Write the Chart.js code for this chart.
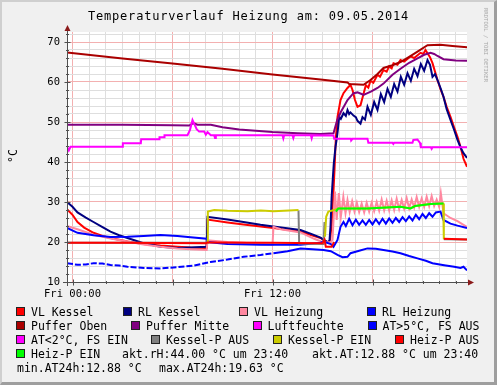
<!DOCTYPE html>
<html>
<head>
<meta charset="utf-8">
<script src="https://cdn.jsdelivr.net/npm/chart.js@4.4.1/dist/chart.umd.min.js"></script>
<style>
  html, body { margin: 0; padding: 0; background: #f0f0f0; }
  #wrap { position: relative; width: 497px; height: 385px; overflow: hidden; font-family: 'DejaVu Sans Mono', monospace; color: #000; }
  #chart { position: absolute; left: 0; top: 0; }
  #frame { position: absolute; left: 0; top: 0; width: 497px; height: 385px; box-sizing: border-box;
           border-style: solid; border-width: 2px 3px 3px 2px; border-color: #cfcfcf #9e9e9e #9e9e9e #cfcfcf; pointer-events: none; }
  .title { position: absolute; left: 0; top: 8px; width: 497px; text-align: center; font-size: 12px; letter-spacing: 0.8px; line-height: 16px; }
  .ylab { position: absolute; left: 13px; top: 156px; font-size: 11.5px; transform: translate(-50%, -50%) rotate(-90deg); white-space: nowrap; }
  .wm { position: absolute; left: 486px; top: 45px; font-size: 5.6px; color: #aaaaaa; white-space: nowrap; transform: translate(-50%, -50%) rotate(90deg); }
  .lg { position: absolute; font-size: 11.5px; line-height: 14px; white-space: pre; }
  .box { position: absolute; width: 9px; height: 9px; box-sizing: border-box; border: 1px solid #222; }
</style>
</head>
<body>
<div id="wrap">
  <canvas id="chart" width="497" height="385"></canvas>
  <div class="title">Temperaturverlauf Heizung am: 09.05.2014</div>
  <div class="ylab">°C</div>
  <div class="wm">RRDTOOL / TOBI OETIKER</div>
  <div id="legend"></div>
  <div id="frame"></div>
</div>
<script>
// time in hours (Fri 00:00 = 0), graph spans 23:40 Thu .. 23:40 Fri
const vlKessel = [[-0.33,28.2],[0,26.8],[0.3,25.0],[0.7,23.6],[1.26,22.3],[1.8,21.5],[2.28,21.0],[3.3,20.1],[4.26,19.5],[5.28,19.1],[6.3,18.8],[7.08,18.6],[8.05,18.5],[8.1,25.6],[9.3,24.9],[10.26,24.4],[11.28,23.9],[12.06,23.5],[13.68,22.6],[14.4,21.6],[14.88,21.0],[15.06,20.5],[15.3,19.9],[15.45,20.3],[15.55,24.5],[15.65,32],[15.72,38],[15.8,46.0],[15.9,51.3],[16.08,55.5],[16.26,57.2],[16.5,58.5],[16.68,59.3],[16.8,58.0],[16.95,55.5],[17.1,53.8],[17.28,54.2],[17.46,57.0],[17.6,59.2],[17.75,58.6],[17.88,60.3],[18.05,59.8],[18.3,61.8],[18.45,61.3],[18.66,63.0],[18.85,62.6],[19.0,63.9],[19.15,63.4],[19.26,64.7],[19.5,64.3],[19.68,65.5],[19.9,65.1],[20.28,66.4],[20.5,66.0],[20.88,67.3],[21.05,67.0],[21.18,68.0],[21.3,67.2],[21.45,66.2],[21.6,64.7],[21.75,62.6],[21.9,60.5],[22.08,58.2],[22.26,56.3],[22.45,53.8],[22.68,51.3],[22.9,48.6],[23.1,46.3],[23.3,43.5],[23.46,40.8],[23.67,38.8]];
const rlKessel = [[-0.33,30.0],[0,28.8],[0.3,27.4],[0.8,26.1],[1.26,25.0],[1.8,23.7],[2.28,22.6],[2.8,21.7],[3.3,21.0],[4.26,19.7],[5.28,18.8],[6.3,18.5],[7.08,18.6],[8.05,18.8],[8.1,26.3],[9.3,25.6],[10.26,25.0],[11.28,24.3],[12.06,23.9],[13.68,23.0],[14.4,21.9],[14.88,21.1],[15.06,20.6],[15.3,20.0],[15.42,20.3],[15.48,23.8],[15.55,31.3],[15.62,36],[15.68,39.7],[15.78,43.8],[15.86,46],[15.92,48.0],[16.0,51.3],[16.1,50.8],[16.26,52.2],[16.4,51.5],[16.5,53.0],[16.6,52.0],[16.68,52.4],[16.86,51.6],[17.0,51.2],[17.1,50.3],[17.28,49.6],[17.4,51.2],[17.55,50.6],[17.7,53.8],[17.9,51.8],[18.1,55.0],[18.3,53.0],[18.5,57.0],[18.7,55.0],[18.9,58.3],[19.1,56.3],[19.3,59.5],[19.5,57.6],[19.7,61.3],[19.9,59.3],[20.1,62.2],[20.3,60.3],[20.5,63.3],[20.7,61.5],[20.9,64.5],[21.1,62.8],[21.3,65.5],[21.45,64.3],[21.6,61.3],[21.75,62.0],[21.9,60.5],[22.08,58.5],[22.26,56.3],[22.45,53.2],[22.68,50.5],[22.9,48.0],[23.1,45.5],[23.3,43.5],[23.46,42.2],[23.67,41.0]];
const vlHeizung = [[-0.33,24.0],[0.3,23.2],[1.26,21.8],[2.28,20.9],[3.3,20.1],[4.26,19.4],[5.28,18.8],[6.3,18.4],[7.08,18.2],[8.05,18.0],[8.1,20.4],[9.3,20.0],[10.26,19.8],[11.28,19.5],[12.0,19.3],[12.06,23.8],[12.5,23.2],[13.68,22.4],[14.5,20.8],[15.06,19.9],[15.5,20.0],[15.6,20.5],[15.75,32.6],[15.85,25.5],[15.98,32.2],[16.1,26.3],[16.25,31.3],[16.38,27.2],[16.5,30.5],[16.63,27.5],[16.78,30.2],[16.92,27.6],[17.06,29.8],[17.2,27.5],[17.35,29.6],[17.5,27.4],[17.65,29.8],[17.8,27.6],[17.95,29.8],[18.1,27.7],[18.25,30.0],[18.4,27.8],[18.55,30.6],[18.7,27.9],[18.85,30.3],[19.0,27.9],[19.15,30.4],[19.3,28.0],[19.45,30.8],[19.6,28.2],[19.75,30.5],[19.9,28.3],[20.05,31.0],[20.2,28.4],[20.35,30.6],[20.5,28.6],[20.65,31.2],[20.8,28.8],[20.95,30.9],[21.1,28.8],[21.25,31.3],[21.4,29.0],[21.55,31.5],[21.7,29.0],[21.85,30.6],[22.0,28.8],[22.1,32.2],[22.26,27.2],[22.68,26.0],[23.1,25.2],[23.46,24.3],[23.67,23.8]];
const rlHeizung = [[-0.33,23.5],[0.3,22.3],[1.26,21.7],[2.28,21.25],[3.3,21.3],[4.26,21.5],[5.28,21.75],[6.3,21.5],[7.08,21.2],[8.05,20.8],[8.1,20.0],[9.3,19.5],[11.28,19.3],[13.68,19.3],[14.88,19.8],[15.06,20.1],[15.5,19.5],[15.66,18.8],[15.9,20.5],[16.08,23.8],[16.26,25.0],[16.4,24.0],[16.6,25.8],[16.8,24.2],[17.0,25.6],[17.2,24.3],[17.4,25.4],[17.6,24.3],[17.8,25.5],[18.0,24.4],[18.2,25.7],[18.4,24.5],[18.6,25.8],[18.8,24.6],[19.0,25.9],[19.2,24.8],[19.4,26.0],[19.6,25.0],[19.8,26.2],[20.0,25.2],[20.2,26.4],[20.4,25.4],[20.6,26.8],[20.8,25.7],[21.0,27.0],[21.2,26.0],[21.4,27.2],[21.6,26.3],[21.8,27.4],[22.08,27.6],[22.26,25.5],[22.68,24.6],[23.1,24.1],[23.67,23.5]];
const pufferOben = [[-0.33,67.4],[3,65.9],[6,64.6],[9,63.3],[12,61.9],[14.88,60.6],[16.5,59.9],[16.6,59.5],[17.46,59.3],[17.88,60.5],[18.3,62.0],[18.66,63.5],[19.2,64.2],[19.68,65.0],[20.2,66.3],[20.7,67.6],[21.3,69.2],[22.08,69.3],[22.8,69.0],[23.67,68.7]];
const pufferMitte = [[-0.33,49.3],[3,49.3],[6,49.2],[7.0,49.1],[7.25,49.7],[7.5,49.3],[8.3,49.3],[9.0,48.7],[10,48.1],[11,47.8],[12,47.5],[13.5,47.2],[14.88,47.0],[15.66,47.2],[15.88,50.5],[16.1,52.5],[16.5,55.5],[16.86,57.2],[17.1,57.4],[17.46,56.8],[17.9,57.6],[18.3,58.5],[18.66,59.6],[19.2,61.8],[19.68,63.3],[20.2,64.8],[20.7,65.9],[21.1,66.8],[21.48,67.3],[21.7,67.0],[21.9,66.5],[22.26,65.7],[23.0,65.4],[23.67,65.3]];
const luftfeuchte = [[-0.33,43.8],[-0.22,42.9],[-0.12,43.8],[3.0,43.8],[3.02,44.7],[4.1,44.7],[4.12,45.7],[5.2,45.7],[5.22,46.2],[5.5,46.2],[5.52,46.7],[6.9,46.7],[7.05,48.0],[7.2,50.5],[7.3,49.6],[7.45,48.2],[7.6,47.6],[7.9,47.6],[8.0,46.8],[8.1,47.5],[8.3,46.7],[8.5,46.7],[8.55,46.0],[8.6,46.7],[12.6,46.7],[12.65,45.9],[12.7,46.7],[13.2,46.7],[13.25,46.0],[13.3,46.7],[14.3,46.7],[14.35,45.9],[14.4,46.7],[15.66,46.6],[15.7,45.8],[16.7,45.8],[16.72,45.4],[16.8,45.8],[17.7,45.8],[17.75,44.8],[19.2,44.8],[19.25,44.5],[19.3,44.8],[20.4,44.8],[20.45,45.5],[20.7,45.6],[20.85,44.8],[20.9,43.7],[21.5,43.7],[21.55,43.3],[21.6,43.7],[23.67,43.7]];
const atWarm = [[-0.33,14.7],[0.3,14.3],[0.8,14.4],[1.26,14.7],[1.8,14.6],[2.28,14.25],[2.8,14.1],[3.3,13.8],[4.3,13.5],[5.28,13.4],[6.3,13.7],[7.3,14.1],[8.28,15.0],[9.3,15.6],[10.26,16.3],[11.28,16.75],[12.06,17.2],[12.9,17.7],[13.68,18.4],[14.4,18.2],[15.06,18.0],[15.5,17.7],[15.9,16.8],[16.2,16.2],[16.5,16.3],[16.68,17.2],[17.2,17.8],[17.7,18.4],[18.2,18.3],[18.66,18.0],[19.2,17.6],[19.68,17.2],[20.2,16.5],[20.7,15.9],[21.2,15.3],[21.6,14.7],[22.3,14.2],[22.9,13.8],[23.28,13.5],[23.46,13.8],[23.67,12.9]];
const atKalt = [];
const kesselAus = [[-0.33,19.8],[8.08,19.8],[8.1,20.5],[8.11,null],[13.56,27.9],[13.6,19.6],[15.06,19.5],[15.12,25.0],[15.13,null],[22.28,20.7],[23.67,20.6]];
const kesselEin = [[8.1,19.9],[8.12,27.6],[8.5,28.0],[9.3,27.8],[10.5,27.7],[11.3,27.9],[12.06,27.7],[13.0,27.9],[13.56,28.0],[13.57,null],[15.15,21.3],[15.22,26.3],[15.35,27.6],[15.7,28.0],[15.95,28.4],[17.7,28.4],[19.68,28.8],[20.28,28.4],[20.55,29.0],[21.48,29.5],[22.24,29.6],[22.28,20.7]];
const heizAus = [[-0.33,19.8],[3,19.8],[8.0,19.7],[8.1,19.9],[12,19.8],[15.0,19.7],[15.12,20.6],[15.2,18.8],[15.55,18.8],[15.7,20.0],[15.75,null],[22.28,20.8],[23.67,20.6]];
const heizEin = [[15.8,27.6],[15.95,28.4],[17.7,28.4],[19.68,28.8],[20.28,28.4],[20.55,29.0],[21.48,29.5],[22.26,29.6]];

const seriesNames = ['VL Kessel', 'RL Kessel', 'VL Heizung', 'RL Heizung', 'Puffer Oben', 'Puffer Mitte', 'Luftfeuchte',
  'AT>5°C, FS AUS', 'AT<2°C, FS EIN', 'Kessel-P AUS', 'Kessel-P EIN', 'Heiz-P AUS', 'Heiz-P EIN'];
const seriesColors = ['#ff0000', '#000080', '#ff88a0', '#0000ff', '#aa0000', '#800080', '#ff00ff',
  '#0000ff', '#ff00ff', '#808080', '#cccc00', '#ff0000', '#00ff00'];
const seriesData = [vlKessel, rlKessel, vlHeizung, rlHeizung, pufferOben, pufferMitte, luftfeuchte,
  atWarm, atKalt, kesselAus, kesselEin, heizAus, heizEin];

const hourTicks = Array.from({length: 24}, (_, i) => i);
const tempTicks = Array.from({length: 32}, (_, i) => 10 + i * 2);
const xLabelHours = [0, 12];
const xLabelTexts = ['Fri 00:00', 'Fri 12:00'];

const infoTexts = ['akt.rH:44.00 °C um 23:40', 'akt.AT:12.88 °C um 23:40', 'min.AT24h:12.88 °C', 'max.AT24h:19.63 °C'];

// legend, laid out like the rrdtool one
const legendRows = [
  [[0, 31], [1, 138], [2, 254], [3, 382]],
  [[4, 31], [5, 146], [6, 267.5], [7, 382.5]],
  [[8, 31], [9, 166], [10, 288], [11, 410]],
  [[12, 31]]
];
const lg = document.getElementById('legend');
function addText(txt, x, top) {
  const s = document.createElement('div');
  s.className = 'lg';
  s.style.left = x + 'px';
  s.style.top = top + 'px';
  s.textContent = txt;
  lg.appendChild(s);
}
legendRows.forEach((row, r) => {
  const top = 304.5 + r * 14;
  row.forEach(([idx, x]) => {
    const b = document.createElement('div');
    b.className = 'box';
    b.style.left = (x - 15) + 'px';
    b.style.top = (top + 2.5) + 'px';
    b.style.background = seriesColors[idx];
    lg.appendChild(b);
    addText(seriesNames[idx], x, top);
  });
});
addText(infoTexts[0], 122, 304.5 + 3 * 14);
addText(infoTexts[1], 312, 304.5 + 3 * 14);
addText(infoTexts[2], 17, 304.5 + 4 * 14);
addText(infoTexts[3], 159, 304.5 + 4 * 14);

const minorGrid = '#dedede';
const majorGrid = '#f3b0b0';
const tickFont = { family: 'DejaVu Sans Mono', size: 10.5 };

// white canvas + rrdtool style axes with arrows
const rrdFrame = {
  id: 'rrdFrame',
  beforeDraw(chart) {
    const { ctx, chartArea: a } = chart;
    ctx.save();
    ctx.fillStyle = '#ffffff';
    ctx.fillRect(a.left, a.top, a.right - a.left, a.bottom - a.top);
    ctx.restore();
  },
  afterDraw(chart) {
    const { ctx, chartArea: a, scales } = chart;
    ctx.save();
    ctx.strokeStyle = '#505050';
    ctx.lineWidth = 1;
    ctx.beginPath();
    ctx.moveTo(a.left + 0.5, a.bottom + 4);
    ctx.lineTo(a.left + 0.5, a.top - 3);
    ctx.moveTo(a.left - 4, a.bottom + 0.5);
    ctx.lineTo(a.right + 4, a.bottom + 0.5);
    scales.y.ticks.forEach(t => {
      const y = Math.round(scales.y.getPixelForValue(t.value)) + 0.5;
      const len = t.value % 10 === 0 ? 3 : 1.5;
      ctx.moveTo(a.left + 0.5 - len, y);
      ctx.lineTo(a.left + 0.5 + len, y);
    });
    scales.x.ticks.forEach(t => {
      const x = Math.round(scales.x.getPixelForValue(t.value)) + 0.5;
      const len = t.value % 6 === 0 ? 3 : 1.5;
      ctx.moveTo(x, a.bottom + 0.5 - len);
      ctx.lineTo(x, a.bottom + 0.5 + len);
    });
    ctx.stroke();
    ctx.fillStyle = '#8b1a1a';
    ctx.beginPath();
    ctx.moveTo(a.left + 0.5, a.top - 7);
    ctx.lineTo(a.left - 2.5, a.top - 1);
    ctx.lineTo(a.left + 3.5, a.top - 1);
    ctx.closePath();
    ctx.fill();
    ctx.beginPath();
    ctx.moveTo(a.right + 7, a.bottom + 0.5);
    ctx.lineTo(a.right + 1, a.bottom - 2.5);
    ctx.lineTo(a.right + 1, a.bottom + 3.5);
    ctx.closePath();
    ctx.fill();
    ctx.restore();
  }
};

const datasets = seriesData.map((pts, i) => ({
  label: seriesNames[i],
  data: pts.map(([x, y]) => ({ x, y })),
  borderColor: seriesColors[i],
  backgroundColor: seriesColors[i],
  borderWidth: 2,
  pointRadius: 0,
  tension: 0,
  spanGaps: false,
  order: -i,
  segment: i === 7 ? { borderDash: c => (c.p0.parsed.x < 11.5 ? [6, 2] : undefined) } : undefined
}));

new Chart(document.getElementById('chart'), {
  type: 'line',
  data: { datasets },
  options: {
    responsive: false,
    devicePixelRatio: 1,
    animation: false,
    layout: { padding: { top: 32, right: 30, bottom: 0, left: 0 } },
    plugins: { legend: { display: false }, tooltip: { enabled: false }, title: { display: false } },
    scales: {
      x: {
        type: 'linear',
        min: -0.33,
        max: 23.67,
        afterBuildTicks: s => { s.ticks = hourTicks.map(v => ({ value: v })); },
        afterFit: s => { s.height = 103; },
        grid: { color: c => (c.tick && c.tick.value % 6 === 0 ? majorGrid : minorGrid), drawTicks: false },
        border: { display: false },
        ticks: {
          autoSkip: false, maxRotation: 0, padding: 6, color: '#000', font: tickFont,
          callback: v => { const k = xLabelHours.indexOf(v); return k >= 0 ? xLabelTexts[k] : ''; }
        }
      },
      y: {
        min: 10,
        max: 72.5,
        afterBuildTicks: s => { s.ticks = tempTicks.map(v => ({ value: v })); },
        afterFit: s => { s.width = 67; },
        grid: { color: c => (c.tick && c.tick.value % 10 === 0 ? majorGrid : minorGrid), drawTicks: false },
        border: { display: false },
        ticks: {
          autoSkip: false, padding: 7, color: '#000', font: tickFont,
          callback: v => (v % 10 === 0 ? String(v) : '')
        }
      }
    }
  },
  plugins: [rrdFrame]
});
</script>
</body>
</html>
